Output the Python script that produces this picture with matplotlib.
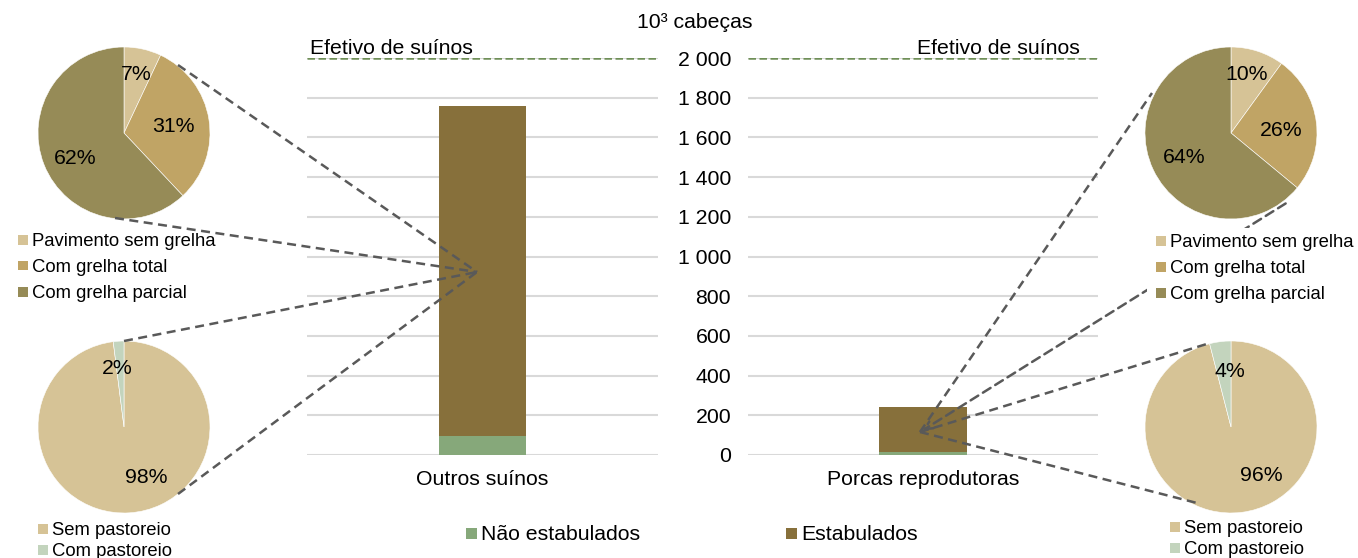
import matplotlib
matplotlib.use("Agg")

import numpy as np
import matplotlib.pyplot as plt
from matplotlib.lines import Line2D
from matplotlib.patches import Rectangle, FancyArrowPatch

plt.rcParams["font.family"] = ["Liberation Sans", "DejaVu Sans"]

# bar data (10^3 cabeças)
categories = ["Outros suínos", "Porcas reprodutoras"]
nao_estabulados = [96, 16]
estabulados = [1664, 227]
efetivo = 2000
y_ticks = list(range(0, 2001, 200))

# pie data (%)
pav_labels = ["Pavimento sem grelha", "Com grelha total", "Com grelha parcial"]
pav_outros = [7, 31, 62]
pav_porcas = [10, 26, 64]
past_labels = ["Sem pastoreio", "Com pastoreio"]
past_outros = [98, 2]
past_porcas = [96, 4]

c_light = "#D6C396"
c_mid = "#C0A465"
c_dark = "#968B57"
c_past = "#C3D4BD"
c_est = "#87703B"
c_nao = "#86A87A"
c_efet = "#6F8F57"
c_grid = "#D9D9D9"
c_conn = "#595959"

W, H = 1358, 558
fig = plt.figure(figsize=(W / 100, H / 100), dpi=100)


def fx(x):
    return x / W


def fy(y):
    return 1 - y / H


def tick_label(v):
    return f"{v:,}".replace(",", " ")


# stacked bars, one panel per category
panels = [(307, 351), (748, 350)]
for i, (left, width) in enumerate(panels):
    ax = fig.add_axes([fx(left), fy(455), width / W, 397 / H])
    ax.bar(0, nao_estabulados[i], 0.25, color=c_nao, zorder=2)
    ax.bar(0, estabulados[i], 0.25, bottom=nao_estabulados[i], color=c_est, zorder=2)
    ax.axhline(efetivo, color=c_efet, lw=1.8, dashes=(3.0, 1.4), zorder=3)
    ax.set_xlim(-0.5, 0.5)
    ax.set_ylim(0, 2000)
    ax.set_yticks(y_ticks)
    ax.grid(axis="y", color=c_grid, lw=1.5, zorder=0)
    ax.set_xticks([0])
    ax.set_xticklabels([categories[i]], fontsize=15.3)
    ax.tick_params(axis="x", length=0, pad=10.5)
    ax.tick_params(axis="y", length=0, pad=12.2, labelsize=15.3)
    for s in ax.spines.values():
        s.set_visible(False)
    if i == 0:
        ax.set_yticklabels([])
        ax.text(3 / width, efetivo, "Efetivo de suínos", transform=ax.get_yaxis_transform(),
                ha="left", va="bottom", fontsize=15.3)
    else:
        ax.set_yticklabels([tick_label(v) for v in y_ticks])
        ax.text(332 / width, efetivo, "Efetivo de suínos", transform=ax.get_yaxis_transform(),
                ha="right", va="bottom", fontsize=15.3)

fig.text(fx(695), fy(22), "10³ cabeças", ha="center", va="center", fontsize=15.3)


def draw_pie(cx, cy, r, values, colors, label_pos):
    pax = fig.add_axes([fx(cx - r), fy(cy + r), 2 * r / W, 2 * r / H])
    pax.pie(values, colors=colors, startangle=90, counterclock=False, radius=1,
            wedgeprops=dict(edgecolor="white", linewidth=0.4))
    for v, (ang, dist) in zip(values, label_pos):
        a = np.deg2rad(ang)
        pax.text(dist * np.cos(a), dist * np.sin(a), f"{v}%", ha="center", va="center",
                 fontsize=15.3)
    pax.set_xlim(-1, 1)
    pax.set_ylim(-1, 1)
    pax.set_aspect("auto")
    pax.axis("off")


draw_pie(124, 133, 86, pav_outros, [c_light, c_mid, c_dark],
         [(78, 0.69), (7, 0.58), (208, 0.64)])
draw_pie(124, 427, 86, past_outros, [c_light, c_past],
         [(-66, 0.64), (97, 0.69)])
draw_pie(1231, 133, 86, pav_porcas, [c_light, c_mid, c_dark],
         [(75, 0.70), (3, 0.59), (208, 0.61)])
draw_pie(1231, 427, 86, past_porcas, [c_light, c_past],
         [(-58, 0.67), (91, 0.64)])


def connector(p0, p1, arrow=False):
    if arrow:
        fig.add_artist(FancyArrowPatch((fx(p1[0]), fy(p1[1])), (fx(p0[0]), fy(p0[1])),
                                       transform=fig.transFigure, arrowstyle="->",
                                       mutation_scale=14, color=c_conn, lw=1.8,
                                       linestyle=(0, (3.6, 2.2)), zorder=5))
    else:
        fig.add_artist(Line2D([fx(p0[0]), fx(p1[0])], [fy(p0[1]), fy(p1[1])],
                              color=c_conn, lw=1.8, dashes=(3.6, 2.2), zorder=5))


hub_l = (477, 272)
for p in [(178, 65), (115, 218), (124, 341), (178, 494)]:
    connector(p, hub_l)

hub_r = (920, 432)
connector(hub_r, (1152, 93))
connector(hub_r, (1288, 202), arrow=True)
connector(hub_r, (1210, 343))
connector(hub_r, (1197, 503))


def legend_rows(x, rows, labels, colors, size, base_off, box=10, bg=None):
    if bg is not None:
        fig.add_artist(Rectangle((fx(bg[0]), fy(bg[3])), (bg[2] - bg[0]) / W, (bg[3] - bg[1]) / H,
                                 transform=fig.transFigure, facecolor="white",
                                 edgecolor="none", zorder=6))
    for y, lab, col in zip(rows, labels, colors):
        fig.add_artist(Rectangle((fx(x), fy(y + box / 2)), box / W, box / H,
                                 transform=fig.transFigure, facecolor=col,
                                 edgecolor="none", zorder=7))
        fig.text(fx(x + box + 4), fy(y + base_off), lab, ha="left", va="baseline",
                 fontsize=size, zorder=7)


legend_rows(18, [239.5, 265.5, 291.5], pav_labels, [c_light, c_mid, c_dark], 13.3, 6)
legend_rows(38, [529, 550], past_labels, [c_light, c_past], 13.3, 6)
legend_rows(1156, [241, 267, 293], pav_labels, [c_light, c_mid, c_dark], 13.3, 6,
            bg=(1147, 228, 1358, 302))
legend_rows(1170, [527, 548], past_labels, [c_light, c_past], 13.3, 6)
legend_rows(466, [533], ["Não estabulados"], [c_nao], 15.3, 7, box=11)
legend_rows(786, [533], ["Estabulados"], [c_est], 15.3, 7, box=11)

fig.savefig("out.png", dpi=100, facecolor="white")
plt.close(fig)
